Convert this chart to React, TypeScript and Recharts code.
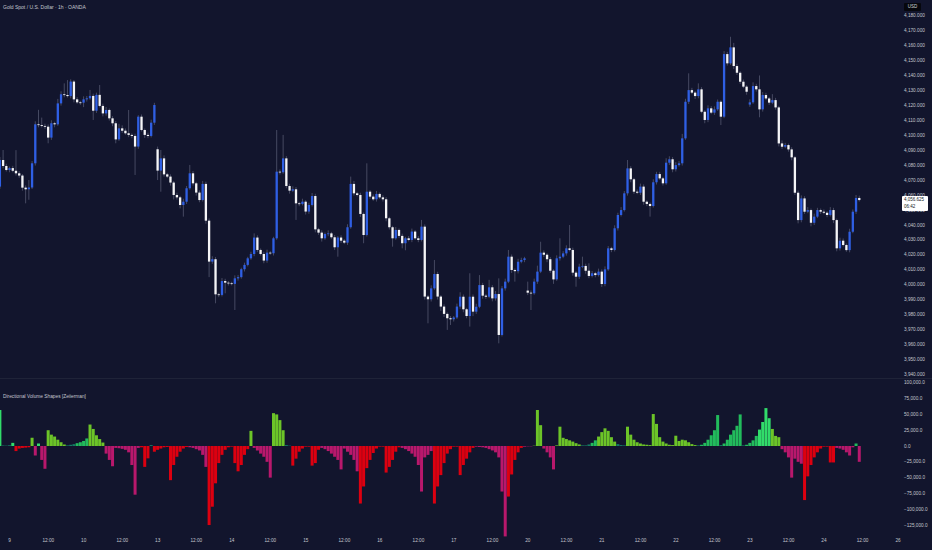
import { ComposedChart, Bar, XAxis, YAxis, Cell } from 'recharts'

// XAU/USD 1h candles, index 0 = first visible bar
const closes = [
  4083.4, 4079.4, 4076.7, 4078.0, 4076.2, 4074.5, 4073.0, 4064.9, 4063.8, 4065.0,
  4081.2, 4107.3, 4106.8, 4106.2, 4105.7, 4098.4, 4108.0, 4107.3, 4121.3, 4127.4,
  4126.9, 4126.2, 4135.9, 4124.0, 4122.0, 4121.8, 4124.0, 4124.7, 4126.3, 4116.4,
  4127.0, 4119.6, 4114.6, 4116.9, 4111.3, 4108.0, 4097.2, 4104.6, 4103.0, 4101.3,
  4100.2, 4099.5, 4092.4, 4112.4, 4103.5, 4100.2, 4099.5, 4108.4, 4120.2, 4076.3,
  4084.5, 4073.8, 4072.3, 4068.3, 4060.0, 4058.4, 4053.3, 4055.5, 4064.5, 4074.5,
  4067.8, 4061.6, 4056.6, 4067.4, 4042.8, 4015.4, 4017.0, 3993.5, 3993.1, 4002.4,
  4001.3, 4000.9, 4000.5, 4004.2, 4005.0, 4010.3, 4013.2, 4017.6, 4020.5, 4031.5,
  4023.2, 4020.5, 4016.1, 4021.4, 4021.0, 4031.0, 4075.6, 4075.2, 4084.5, 4066.0,
  4062.9, 4063.8, 4054.4, 4054.0, 4055.5, 4048.9, 4053.3, 4059.3, 4037.0, 4034.8,
  4031.0, 4033.9, 4034.3, 4031.7, 4025.0, 4031.5, 4029.4, 4028.1, 4038.4, 4067.4,
  4061.1, 4060.0, 4047.3, 4033.2, 4062.2, 4058.9, 4057.1, 4060.7, 4058.4, 4057.1,
  4044.4, 4038.4, 4031.0, 4036.6, 4032.6, 4027.7, 4031.0, 4029.9, 4035.5, 4031.0,
  4029.9, 4038.8, 3992.0, 3990.2, 3997.5, 4007.1, 3992.0, 3985.3, 3980.4, 3977.5,
  3976.8, 3978.0, 3985.3, 3991.9, 3983.5, 3979.0, 3991.9, 3981.9, 3985.2, 3999.7,
  3992.6, 3991.9, 3998.2, 3990.8, 3993.7, 3966.3, 3997.5, 4002.0, 4018.7, 4009.8,
  4009.0, 4015.3, 4016.5, 4017.6, 3994.6, 3994.2, 4002.0, 4008.7, 4021.4, 4020.0,
  4017.0, 4009.3, 4003.5, 4017.6, 4018.7, 4020.9, 4024.3, 4023.2, 4008.0, 4005.3,
  4012.0, 4012.5, 4009.3, 4005.8, 4007.6, 4006.4, 4008.7, 4000.4, 4010.2, 4024.3,
  4023.2, 4037.7, 4046.6, 4049.9, 4061.1, 4077.8, 4070.5, 4062.2, 4061.5, 4065.6,
  4055.5, 4054.0, 4052.6, 4068.5, 4074.0, 4071.1, 4067.8, 4081.6, 4083.9, 4077.2,
  4080.0, 4081.2, 4097.9, 4122.4, 4130.2, 4128.5, 4126.2, 4130.7, 4115.7, 4110.2,
  4118.0, 4115.1, 4117.3, 4122.4, 4112.4, 4154.3, 4148.1, 4158.8, 4146.3, 4141.8,
  4135.8, 4132.5, 4129.1, 4122.0, 4132.9, 4130.7, 4117.3, 4126.9, 4124.6, 4121.8,
  4123.5, 4118.6, 4094.5, 4092.3, 4093.4, 4090.5, 4085.2, 4061.5, 4043.2, 4057.7,
  4048.8, 4049.9, 4041.4, 4045.5, 4049.9, 4048.8, 4048.1, 4046.6, 4049.9, 4043.2,
  4024.3, 4029.4, 4026.5, 4023.1, 4035.4, 4048.8, 4058.0, 4056.6,
]

// bars that did not open at the previous close (first bar, session gaps)
const gapOpens: Record<number, number> = { 0: 4065.6, 49: 4090.6, 164: 3996.0, 233: 4120.5 }

const upperWicks = [
  2, 6.7, 1.5, 1, 1.5, 13.8, 1.5, 1, 1.5, 5,
  1.5, 2, 9.7, 5, 1.5, 1.5, 2, 1, 3, 2,
  7.3, 10, 1.5, 1, 1.5, 1, 2, 1.5, 4, 1.5,
  1.5, 6.6, 1.5, 2, 1, 1.5, 1.5, 3, 2, 1.5,
  15.6, 1, 1.5, 1, 1.5, 1, 1.5, 2, 1.5, 1.8,
  5.6, 2, 1, 1.5, 1, 1.5, 1, 2, 1.5, 5.6,
  1.5, 1, 1.5, 2, 1.5, 1.5, 2, 1.5, 1, 2,
  1.5, 1, 1, 2, 1.5, 1, 1.5, 1, 1.5, 2.8,
  1.5, 1, 1.5, 2, 1, 1, 27.9, 1.5, 15.7, 1.5,
  1.5, 2, 1.5, 1, 2, 1, 1.5, 2, 1.5, 1,
  1.5, 1, 2, 1, 1.5, 1, 1.5, 1, 2, 4.9,
  2, 1, 1.5, 1, 19, 1, 1.5, 2, 1, 1.5,
  1.5, 1, 1, 2, 1, 1.5, 1, 1.5, 2, 1,
  1.5, 4.5, 1.5, 1, 2, 9.4, 1.5, 1, 1.5, 1,
  1.5, 1, 2, 3, 1.5, 1, 15.7, 1.5, 2, 6.7,
  1.5, 1, 5, 1.5, 2, 10.5, 1.5, 2, 4.5, 1.5,
  1, 2, 1.5, 1, 6, 1.5, 2, 4, 7.3, 1.5,
  1, 1.5, 1, 2, 12.3, 1.5, 2, 15.6, 1.5, 1,
  2, 6.2, 1.5, 5, 1.5, 1, 2, 1.5, 2, 1.5,
  1, 2, 1.5, 2, 1.5, 5.6, 1.5, 1, 1.5, 2,
  1.5, 1, 1, 2, 1.5, 1.5, 1, 3, 2, 1.5,
  2, 1.5, 3, 2, 11.2, 1.5, 1, 4, 1.5, 1,
  2, 1.5, 2, 1.5, 1, 2, 1.5, 7.1, 3, 1.5,
  1, 1.5, 1, 2, 2.5, 1.5, 9.3, 2, 1.5, 1,
  4, 1.5, 1, 2, 1.5, 1, 1.5, 1, 1.5, 2,
  1.5, 2, 1, 2, 1.5, 1, 1.5, 1, 2, 1.5,
  1, 2, 1.5, 1, 2, 1.5, 2, 1.5,
]

const lowerWicks = [
  1.5, 1.5, 1, 1.5, 1, 1.5, 1.5, 2, 9.4, 7,
  1, 1.5, 1.5, 1, 1.5, 3.8, 1.5, 2, 1, 1.5,
  1.5, 1, 1.5, 2, 1, 1.5, 3, 1.5, 1, 6.2,
  1.5, 1, 2, 1.5, 1.5, 2, 2.6, 1, 1.5, 1,
  1.5, 1.5, 19, 1.5, 1, 2, 1.5, 1, 1.5, 6.3,
  14.1, 1.5, 1, 2, 3, 1.5, 2.3, 7.8, 1.5, 1,
  1.5, 2, 1.5, 1, 2, 10.4, 1.5, 6, 1.5, 1,
  7.1, 1.5, 1, 17.5, 1.5, 1, 1.5, 1, 1, 1.5,
  1.5, 1, 1.8, 1.5, 1, 1.5, 1, 1.5, 1, 1.5,
  2, 1, 11.1, 1.5, 1, 2, 1.5, 1, 2, 1.5,
  2.2, 1, 1.5, 1, 1.8, 6.3, 1.5, 1, 1.5, 1,
  1.5, 1, 2, 5.5, 1, 1.5, 1, 1.5, 1, 1.5,
  2, 1.5, 5.6, 1, 1.5, 3.4, 4.7, 1, 1.5, 1,
  1.5, 1, 2, 16.1, 1.5, 1, 2, 3, 2, 7.8,
  3.8, 1.5, 1, 1.5, 2, 1.5, 7.1, 3, 1.5, 1,
  2, 1.5, 1, 2, 1.5, 5.6, 1, 1.5, 1, 2,
  7, 1.5, 1, 1.5, 1.6, 11.2, 1, 1.5, 1, 1.5,
  2, 1.5, 3, 1, 1.5, 1, 1.5, 1, 2, 6.7,
  1.5, 1, 2, 1.5, 1, 1.5, 1, 2, 1.5, 1,
  1.5, 1, 1.5, 1, 1, 1.5, 2, 1.5, 1, 1.5,
  2, 1.5, 7.1, 1, 1.5, 1, 1.5, 1, 1.5, 2,
  1.5, 1, 1.5, 1, 1.5, 1, 2, 1.5, 1, 2.2,
  1.5, 1, 1.5, 1, 5.6, 1, 1.5, 1, 2, 1.5,
  1.5, 1, 2, 1.5, 1, 1.5, 5.3, 1.5, 1, 1.5,
  1, 1.5, 2, 1.5, 1, 1.5, 2, 1.5, 2.2, 1.5,
  1.5, 1, 2.4, 1.5, 1, 1.5, 1, 1.5, 1, 2,
  2, 1.5, 1, 1.1, 1.5, 1, 1.5, 1,
]

// Directional Volume Shapes histogram, one value per bar
const volumes = [
  57000, 800, 600, 1200, 5000, -8000, -4000, -3000, -2500, -2000,
  13000, -15000, 4000, -22000, -36000, 25000, 18000, 15000, 10000, 6000,
  2500, 1000, 2000, 3000, 4500, 6000, 8000, 12000, 34000, 27000,
  17000, 11000, 5500, -12000, -22000, -32000, -3000, -3500, -4500, -6000,
  -10000, -30000, -77000, -3000, -2000, -33000, -19500, 1500, -9000, -6000,
  -4000, -2000, -1500, -54000, -30000, -17000, -9000, -4000, -1500, -2000,
  -3000, -5000, -7000, -14000, -33000, -125000, -96000, -59000, -27000, -14000,
  -6000, -2000, -1000, -27000, -40000, -30000, -14000, -5000, 24000, -3000,
  -7000, -12000, -17000, -25000, -50000, 52000, 50000, 41000, 25000, 1500,
  500, -31000, -20000, -9000, -4000, -1000, -1000, -31000, -27000, -6000,
  -3000, -5000, -8000, -12000, -17000, -22000, -37000, -4000, -9000, -14000,
  -22000, -40000, -91000, -64000, -35000, -22000, -11000, -4000, -1000, -1000,
  -42000, -33000, -22000, -9000, -2000, -3000, -5000, -8000, -12000, -17000,
  -30000, -72000, -18000, -14000, -8000, -91000, -64000, -46000, -27000, -12000,
  -5000, -1000, -1000, -46000, -30000, -20000, -10000, -3000, -1000, -1500,
  -2000, -3000, -5000, -7000, -10000, -18000, -72000, -143000, -80000, -45000,
  -22000, -10000, -3000, -1000, -500, -500, 500, 57000, 33000, -4000,
  -10000, -18000, -37000, 1000, 30600, 13000, 11000, 9000, 7000, 4500,
  2500, 1000, 1000, 2500, 5000, 9000, 15000, 22000, 28000, 24000,
  14000, 7000, 3000, 1500, 1000, 30600, 18000, 10000, 6000, 4000,
  2500, 2000, 1500, 50600, 35000, 14000, 7000, 4000, 2000, 1500,
  16300, 8000, 10000, 9000, 6000, 3000, 1500, 1000, 2000, 5000,
  10000, 17000, 25000, 49000, 1500, 4000, 10000, 18000, 25000, 32000,
  50000, 1000, 2000, 5000, 9000, 16000, 26000, 38000, 60000, 44000,
  27000, 16000, 14000, -5000, -10000, -18000, -50000, -20000, -25000, -28000,
  -85500, -48000, -30000, -18000, -10000, -4000, -1000, -1000, -26000, -26000,
  -3000, -4000, -6000, -10000, -15000, -2000, 4000, -25000,
]

// colour group of each histogram run: [first bar, last bar, tone]
const toneRuns: [number, number, string][] = [
  [0, 0, 'G'], [1, 3, 't'], [4, 4, 'G'], [5, 9, 'r'], [10, 10, 'l'], [11, 11, 'm'],
  [12, 12, 'G'], [13, 14, 'm'], [15, 20, 'l'], [21, 23, 't'], [24, 27, 'g'], [28, 32, 'l'],
  [33, 43, 'm'], [44, 46, 'r'], [47, 47, 't'], [48, 58, 'r'], [59, 64, 'm'], [65, 77, 'r'],
  [78, 78, 'l'], [79, 84, 'm'], [85, 88, 'l'], [89, 90, 't'], [91, 99, 'r'], [100, 111, 'm'],
  [112, 124, 'r'], [125, 134, 'm'], [135, 147, 'r'], [148, 157, 'm'], [158, 162, 'r'],
  [163, 165, 'm'], [166, 168, 'l'], [169, 172, 'm'], [173, 180, 'l'], [181, 183, 't'],
  [184, 185, 'g'], [186, 191, 'l'], [192, 194, 't'], [195, 216, 'l'], [217, 217, 't'],
  [218, 223, 'g'], [224, 224, 't'], [225, 230, 'g'], [231, 231, 't'], [232, 235, 'g'],
  [236, 239, 'G'], [240, 242, 'l'], [243, 249, 'm'], [250, 259, 'r'], [260, 265, 'm'],
  [266, 266, 'g'], [267, 267, 'm'],
]

const timeTicks = [3, 15, 26, 38, 49, 61, 72, 84, 95, 107, 118, 130, 141, 153, 164, 176, 187, 199, 210, 222, 233, 245, 256, 268, 279]
const timeLabels = ['9', '12:00', '10', '12:00', '13', '12:00', '14', '12:00', '15', '12:00', '16', '12:00', '17', '12:00', '20', '12:00', '21', '12:00', '22', '12:00', '23', '12:00', '24', '12:00', '26']

const priceTicks = [3940, 3950, 3960, 3970, 3980, 3990, 4000, 4010, 4020, 4030, 4040, 4050, 4060, 4070, 4080, 4090, 4100, 4110, 4120, 4130, 4140, 4150, 4160, 4170, 4180]
const volumeTicks = [100000, 75000, 50000, 25000, 0, -25000, -50000, -75000, -100000, -125000]

const lastPrice = '4,056.625'
const countdown = '06:42'

const BG = '#12152d'
const TEXT = '#c3c6ce'
const FONT = '"Liberation Sans", Arial, sans-serif'
const toneColors: Record<string, string> = {
  r: '#dc0010',
  m: '#b8186c',
  l: '#6cc428',
  g: '#22bb5c',
  G: '#31dc6a',
  t: '#137c62',
}

const toneOf = (i: number) => {
  const run = toneRuns.find(([a, b]) => i >= a && i <= b)
  return run ? run[2] : 'r'
}

const candles = closes.map((close, i) => {
  const open = gapOpens[i] ?? closes[i - 1]
  return {
    i,
    open,
    close,
    high: Math.max(open, close) + upperWicks[i],
    low: Math.min(open, close) - lowerWicks[i],
  }
})

const volumeData = volumes.map((vol, i) => ({ i, vol, tone: toneOf(i) }))

const fmtPrice = (v: number) =>
  v.toLocaleString('en-US', { minimumFractionDigits: 3, maximumFractionDigits: 3 })
const fmtVolume = (v: number) => {
  const s = Math.abs(v).toLocaleString('en-US', { minimumFractionDigits: 1, maximumFractionDigits: 1 })
  return v < 0 ? '\u2212' + s : s
}
const fmtTime = (v: number) => timeLabels[timeTicks.indexOf(v)] ?? ''

function Candle(props: any) {
  const { x, y, width, height, payload } = props
  const { open, close, high, low } = payload
  const cx = x + width / 2
  const k = high > low ? height / (high - low) : 0
  const top = y + (high - Math.max(open, close)) * k
  const bottom = y + (high - Math.min(open, close)) * k
  const up = close >= open
  return (
    <g>
      <line x1={cx} x2={cx} y1={y} y2={y + height} stroke="#5b6079" strokeWidth={0.7} />
      <rect
        x={cx - 1.15}
        y={top}
        width={2.3}
        height={Math.max(bottom - top, 0.8)}
        fill={up ? '#2f5fe4' : '#f5f5f7'}
      />
    </g>
  )
}

const tickStyle = { fill: TEXT, fontSize: 4.7, fontFamily: FONT }

export default function App() {
  return (
    <div
      style={{
        position: 'absolute',
        left: 0,
        top: 0,
        width: 932,
        height: 550,
        background: BG,
        overflow: 'hidden',
        fontFamily: FONT,
      }}
    >
      <div style={{ position: 'absolute', left: 0, top: 0 }}>
        <ComposedChart width={932} height={378} data={candles} margin={{ top: 0, right: 0, bottom: 0, left: 0 }}>
          <XAxis dataKey="i" type="number" domain={[0, 279]} allowDataOverflow hide />
          <YAxis
            orientation="right"
            width={34}
            domain={[3937.5, 4190.5]}
            allowDataOverflow
            ticks={priceTicks}
            interval={0}
            tickFormatter={fmtPrice}
            axisLine={false}
            tickLine={false}
            tickSize={0}
            tickMargin={6}
            tick={tickStyle}
          />
          <Bar
            dataKey={(d: any) => [d.low, d.high]}
            barSize={3}
            isAnimationActive={false}
            shape={(p: any) => <Candle {...p} />}
          />
        </ComposedChart>
      </div>

      <div style={{ position: 'absolute', left: 0, top: 378, width: 932, height: 0.5, background: '#1f2338' }} />

      <div style={{ position: 'absolute', left: 0, top: 378 }}>
        <ComposedChart width={932} height={172} data={volumeData} margin={{ top: 0, right: 0, bottom: 0, left: 0 }}>
          <XAxis
            dataKey="i"
            type="number"
            domain={[0, 279]}
            allowDataOverflow
            ticks={timeTicks}
            interval={0}
            tickFormatter={fmtTime}
            height={12}
            axisLine={false}
            tickLine={false}
            tickSize={0}
            tickMargin={1}
            tick={tickStyle}
          />
          <YAxis
            orientation="right"
            width={34}
            domain={[-145500, 107600]}
            allowDataOverflow
            ticks={volumeTicks}
            interval={0}
            tickFormatter={fmtVolume}
            axisLine={false}
            tickLine={false}
            tickSize={0}
            tickMargin={6}
            tick={tickStyle}
          />
          <Bar dataKey="vol" barSize={3} isAnimationActive={false}>
            {volumeData.map((d) => (
              <Cell key={d.i} fill={toneColors[d.tone]} />
            ))}
          </Bar>
        </ComposedChart>
      </div>

      <div style={{ position: 'absolute', left: 3, top: 4, fontSize: 5, color: TEXT, whiteSpace: 'nowrap' }}>
        Gold Spot / U.S. Dollar · 1h · OANDA
      </div>
      <div style={{ position: 'absolute', left: 3, top: 394, fontSize: 4.8, color: TEXT, whiteSpace: 'nowrap' }}>
        Directional Volume Shapes [Zeiierman]
      </div>

      <div
        style={{
          position: 'absolute',
          left: 904,
          top: 3,
          width: 17,
          height: 8,
          background: '#06070d',
          borderRadius: 1,
          color: '#d1d4dc',
          fontSize: 4.5,
          lineHeight: '8px',
          textAlign: 'center',
        }}
      >
        USD
      </div>

      <div
        style={{
          position: 'absolute',
          left: 902,
          top: 196,
          width: 26,
          height: 15,
          background: '#ffffff',
          borderRadius: 1,
          color: '#131722',
          fontSize: 4.5,
          lineHeight: '6.5px',
          paddingTop: 1,
          paddingLeft: 2,
          boxSizing: 'border-box',
        }}
      >
        <div>{lastPrice}</div>
        <div>{countdown}</div>
      </div>
    </div>
  )
}
